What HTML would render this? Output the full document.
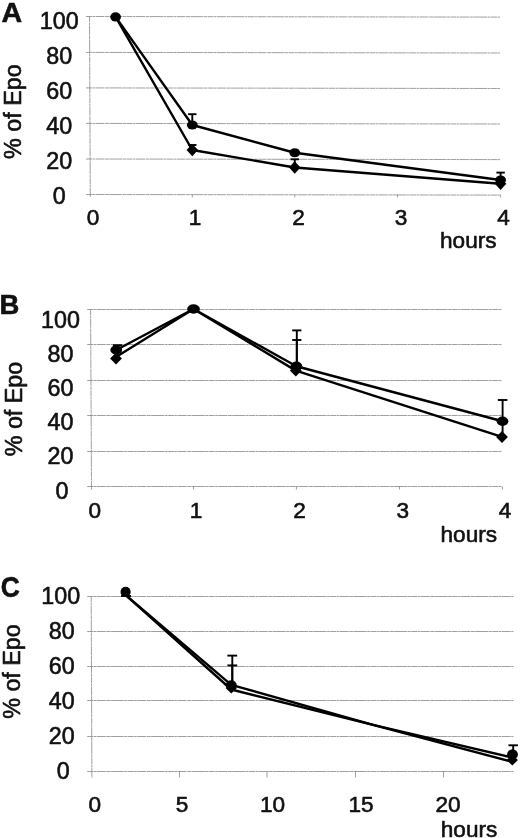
<!DOCTYPE html>
<html><head><meta charset="utf-8"><title>Epo figure</title>
<style>
html,body{margin:0;padding:0;background:#fff;}
svg{display:block;font-family:"Liberation Sans", sans-serif;fill:#111;}
text{stroke:#111;stroke-width:0.6;stroke-linejoin:round;}
.g{stroke:#888;stroke-width:0.8;fill:none;stroke-dasharray:6 0.5 2.5 0.5 9 0.6 4 0.4 13 0.5 3 0.5;}
.l{stroke:#000;stroke-width:2.4;fill:none;stroke-linejoin:round;}
.e{stroke:#000;stroke-width:1.9;fill:none;}
</style></head><body>
<svg width="520" height="838" viewBox="0 0 520 838">
<rect width="520" height="838" fill="#fff"/>
<g id="chartA">
<line x1="86" y1="16.5" x2="500.5" y2="17.1" class="g"/>
<line x1="86" y1="52.4" x2="500.5" y2="53.0" class="g"/>
<line x1="86" y1="87.9" x2="500.5" y2="88.5" class="g"/>
<line x1="86" y1="123.4" x2="500.5" y2="124.0" class="g"/>
<line x1="86" y1="159.0" x2="500.5" y2="159.6" class="g"/>
<line x1="86" y1="194.5" x2="500.5" y2="195.1" class="g"/>
<line x1="89.5" y1="16.3" x2="90.3" y2="197" class="g"/>
<line x1="192.3" y1="194.5" x2="192.3" y2="197.5" class="g"/>
<line x1="294.75" y1="194.5" x2="294.75" y2="197.5" class="g"/>
<line x1="397.5" y1="194.5" x2="397.5" y2="197.5" class="g"/>
<line x1="500.6" y1="194.5" x2="500.6" y2="197.5" class="g"/>
<polyline points="115.6,16.9 192.3,125 294.75,152.75 500.6,180" class="l"/>
<polyline points="115.6,16.9 192.3,150 294.75,167.5 500.6,183.75" class="l"/>
<line x1="192.3" y1="125" x2="192.3" y2="114.2" class="e"/><line x1="188.10000000000002" y1="114.2" x2="196.5" y2="114.2" class="e"/>
<line x1="192.3" y1="150" x2="192.3" y2="145" class="e"/><line x1="188.10000000000002" y1="145" x2="196.5" y2="145" class="e"/>
<line x1="294.75" y1="167" x2="294.75" y2="159.3" class="e"/><line x1="290.55" y1="159.3" x2="298.95" y2="159.3" class="e"/>
<line x1="500.6" y1="180" x2="500.6" y2="172.6" class="e"/><line x1="496.40000000000003" y1="172.6" x2="504.8" y2="172.6" class="e"/>
<ellipse cx="115.6" cy="16.9" rx="5.4" ry="4.6" fill="#000"/>
<ellipse cx="192.3" cy="125" rx="5.4" ry="4.6" fill="#000"/>
<ellipse cx="294.75" cy="152.75" rx="5.4" ry="4.6" fill="#000"/>
<ellipse cx="500.6" cy="180" rx="5.4" ry="4.6" fill="#000"/>
<polygon points="186.60000000000002,150 192.3,143.7 198.0,150 192.3,156.3" fill="#000"/>
<polygon points="289.05,167.5 294.75,161.2 300.45,167.5 294.75,173.8" fill="#000"/>
<polygon points="494.90000000000003,183.75 500.6,177.45 506.3,183.75 500.6,190.05" fill="#000"/>
<text transform="translate(59.2,28.7) scale(1,1)" font-size="23.3" text-anchor="middle" >100</text>
<text transform="translate(59.2,64.10000000000001) scale(1,1)" font-size="23.3" text-anchor="middle" >80</text>
<text transform="translate(59.2,99.3) scale(1,1)" font-size="23.3" text-anchor="middle" >60</text>
<text transform="translate(59.2,134.1) scale(1,1)" font-size="23.3" text-anchor="middle" >40</text>
<text transform="translate(59.2,168.89999999999998) scale(1,1)" font-size="23.3" text-anchor="middle" >20</text>
<text transform="translate(59.2,204.1) scale(1,1)" font-size="23.3" text-anchor="middle" >0</text>
<text transform="translate(93,225) scale(1,1)" font-size="22.6" text-anchor="middle" >0</text>
<text transform="translate(195,225) scale(1,1)" font-size="22.6" text-anchor="middle" >1</text>
<text transform="translate(298.5,225) scale(1,1)" font-size="22.6" text-anchor="middle" >2</text>
<text transform="translate(401,225) scale(1,1)" font-size="22.6" text-anchor="middle" >3</text>
<text transform="translate(503.5,225) scale(1,1)" font-size="22.6" text-anchor="middle" >4</text>
<text transform="translate(440,248.4) scale(1,1)" font-size="22.6" text-anchor="start" >hours</text>
<text transform="translate(1.5,21.5) scale(1.06,1)" font-size="27" text-anchor="start" font-weight="bold" stroke-width="0.8">A</text>
<text transform="translate(21.3,158.9) rotate(-90) scale(1,1)" font-size="23.3" text-anchor="start">% of Epo</text>
</g>
<g id="chartB">
<line x1="87.2" y1="309.5" x2="502" y2="309.5" class="g"/>
<line x1="87.2" y1="344.5" x2="502" y2="344.5" class="g"/>
<line x1="87.2" y1="380.5" x2="502" y2="380.5" class="g"/>
<line x1="87.2" y1="415.5" x2="502" y2="415.5" class="g"/>
<line x1="87.2" y1="451.5" x2="502" y2="451.5" class="g"/>
<line x1="87.2" y1="486.5" x2="502" y2="486.5" class="g"/>
<line x1="90.6" y1="309.3" x2="91.5" y2="489.7" class="g"/>
<line x1="193.5" y1="486.5" x2="193.5" y2="489.5" class="g"/>
<line x1="296.4" y1="486.5" x2="296.4" y2="489.5" class="g"/>
<line x1="399.5" y1="486.5" x2="399.5" y2="489.5" class="g"/>
<line x1="502.5" y1="486.5" x2="502.5" y2="489.5" class="g"/>
<polyline points="116.25,350 193.5,309 296.4,366.25 502.5,421.25" class="l"/>
<polyline points="116,357 193.5,309 295.8,370.6 502,436.9" class="l"/>
<line x1="296.8" y1="366" x2="296.8" y2="330.4" class="e"/><line x1="292.2" y1="330.4" x2="301.40000000000003" y2="330.4" class="e"/>
<line x1="296.8" y1="366" x2="296.8" y2="340" class="e"/><line x1="292.2" y1="340" x2="301.40000000000003" y2="340" class="e"/>
<line x1="502.6" y1="437" x2="502.6" y2="400" class="e"/><line x1="497.8" y1="400" x2="507.40000000000003" y2="400" class="e"/>
<line x1="117.5" y1="350" x2="117.5" y2="345.2" class="e"/><line x1="112.9" y1="345.2" x2="122.1" y2="345.2" class="e"/>
<ellipse cx="116.25" cy="350" rx="5.9" ry="4.7" fill="#000"/>
<ellipse cx="296.4" cy="366.25" rx="5.9" ry="4.7" fill="#000"/>
<ellipse cx="502.5" cy="421.25" rx="5.9" ry="4.7" fill="#000"/>
<ellipse cx="193.5" cy="309" rx="6.4" ry="4.7" fill="#000"/>
<polygon points="110.1,358.6 116,352.6 121.9,358.6 116,364.6" fill="#000"/>
<polygon points="289.90000000000003,370.6 295.8,364.6 301.7,370.6 295.8,376.6" fill="#000"/>
<polygon points="496.1,436.9 502,430.9 507.9,436.9 502,442.9" fill="#000"/>
<text transform="translate(60.4,327.6) scale(1,1)" font-size="23.3" text-anchor="middle" >100</text>
<text transform="translate(60.4,361.7) scale(1,1)" font-size="23.3" text-anchor="middle" >80</text>
<text transform="translate(60.4,396.1) scale(1,1)" font-size="23.3" text-anchor="middle" >60</text>
<text transform="translate(60.4,430.2) scale(1,1)" font-size="23.3" text-anchor="middle" >40</text>
<text transform="translate(60.4,464.4) scale(1,1)" font-size="23.3" text-anchor="middle" >20</text>
<text transform="translate(62,498.7) scale(1,1)" font-size="23.3" text-anchor="middle" >0</text>
<text transform="translate(94.9,518) scale(1,1)" font-size="22.6" text-anchor="middle" >0</text>
<text transform="translate(196,518) scale(1,1)" font-size="22.6" text-anchor="middle" >1</text>
<text transform="translate(299.5,518) scale(1,1)" font-size="22.6" text-anchor="middle" >2</text>
<text transform="translate(402.7,518) scale(1,1)" font-size="22.6" text-anchor="middle" >3</text>
<text transform="translate(505,518) scale(1,1)" font-size="22.6" text-anchor="middle" >4</text>
<text transform="translate(440.5,542.2) scale(1,1)" font-size="22.6" text-anchor="start" >hours</text>
<text transform="translate(-0.4,314) scale(0.98,1)" font-size="28" text-anchor="start" font-weight="bold" stroke-width="0.8">B</text>
<text transform="translate(22.3,456.3) rotate(-90) scale(1,1)" font-size="23.3" text-anchor="start">% of Epo</text>
</g>
<g id="chartC">
<line x1="87.2" y1="596.5" x2="513.5" y2="596.5" class="g"/>
<line x1="87.2" y1="631.5" x2="513.5" y2="631.5" class="g"/>
<line x1="87.2" y1="666.5" x2="513.5" y2="666.5" class="g"/>
<line x1="87.2" y1="700.5" x2="513.5" y2="700.5" class="g"/>
<line x1="87.2" y1="736.5" x2="513.5" y2="736.5" class="g"/>
<line x1="87.2" y1="771.5" x2="513.5" y2="771.5" class="g"/>
<line x1="91.2" y1="596.2" x2="91.9" y2="778" class="g"/>
<line x1="179.5" y1="771" x2="179.5" y2="778" class="g"/>
<line x1="267" y1="771" x2="267" y2="778" class="g"/>
<line x1="355.5" y1="771" x2="355.5" y2="778" class="g"/>
<line x1="443.5" y1="771" x2="443.5" y2="778" class="g"/>
<polyline points="126,595.3 231.25,684.8 374,725.2 512.5,762" class="l"/>
<polyline points="126,595.3 231.25,689.5 374,725.2 512.5,757.5" class="l"/>
<line x1="232.3" y1="686" x2="232.3" y2="655.6" class="e"/><line x1="227.4" y1="655.6" x2="237.20000000000002" y2="655.6" class="e"/>
<line x1="232.3" y1="686" x2="232.3" y2="665.4" class="e"/><line x1="227.4" y1="665.4" x2="237.20000000000002" y2="665.4" class="e"/>
<line x1="513.2" y1="755" x2="513.2" y2="745.3" class="e"/><line x1="508.50000000000006" y1="745.3" x2="517.9000000000001" y2="745.3" class="e"/>
<line x1="121" y1="596" x2="131" y2="596" class="e"/>
<ellipse cx="125.6" cy="591.9" rx="5.1" ry="5.1" fill="#000"/>
<ellipse cx="231.25" cy="685.3" rx="5.5" ry="5" fill="#000"/>
<ellipse cx="512.5" cy="754.4" rx="5.4" ry="5.2" fill="#000"/>
<polygon points="225.55,688 231.25,682.5 236.95,688 231.25,693.5" fill="#000"/>
<polygon points="506.69999999999993,760 512.3,754.4 517.9,760 512.3,765.6" fill="#000"/>
<text transform="translate(60.7,603.7) scale(1,1)" font-size="23.3" text-anchor="middle" >100</text>
<text transform="translate(61.7,639.1) scale(1,1)" font-size="23.3" text-anchor="middle" >80</text>
<text transform="translate(61.7,674.3000000000001) scale(1,1)" font-size="23.3" text-anchor="middle" >60</text>
<text transform="translate(61.7,708.7) scale(1,1)" font-size="23.3" text-anchor="middle" >40</text>
<text transform="translate(61.7,743.6) scale(1,1)" font-size="23.3" text-anchor="middle" >20</text>
<text transform="translate(63.2,779.0) scale(1,1)" font-size="23.3" text-anchor="middle" >0</text>
<text transform="translate(94.7,811.7) scale(1,1)" font-size="22.6" text-anchor="middle" >0</text>
<text transform="translate(182,811.7) scale(1,1)" font-size="22.6" text-anchor="middle" >5</text>
<text transform="translate(272.5,811.7) scale(1,1)" font-size="22.6" text-anchor="middle" >10</text>
<text transform="translate(361,811.7) scale(1,1)" font-size="22.6" text-anchor="middle" >15</text>
<text transform="translate(448,811.7) scale(1,1)" font-size="22.6" text-anchor="middle" >20</text>
<text transform="translate(440.8,836.5) scale(1,1)" font-size="22.6" text-anchor="start" >hours</text>
<text transform="translate(0.8,597.2) scale(0.92,1)" font-size="28.7" text-anchor="start" font-weight="bold" stroke-width="0.8">C</text>
<text transform="translate(20.3,718.8) rotate(-90) scale(1,1)" font-size="23.3" text-anchor="start">% of Epo</text>
</g>
</svg>
</body></html>
